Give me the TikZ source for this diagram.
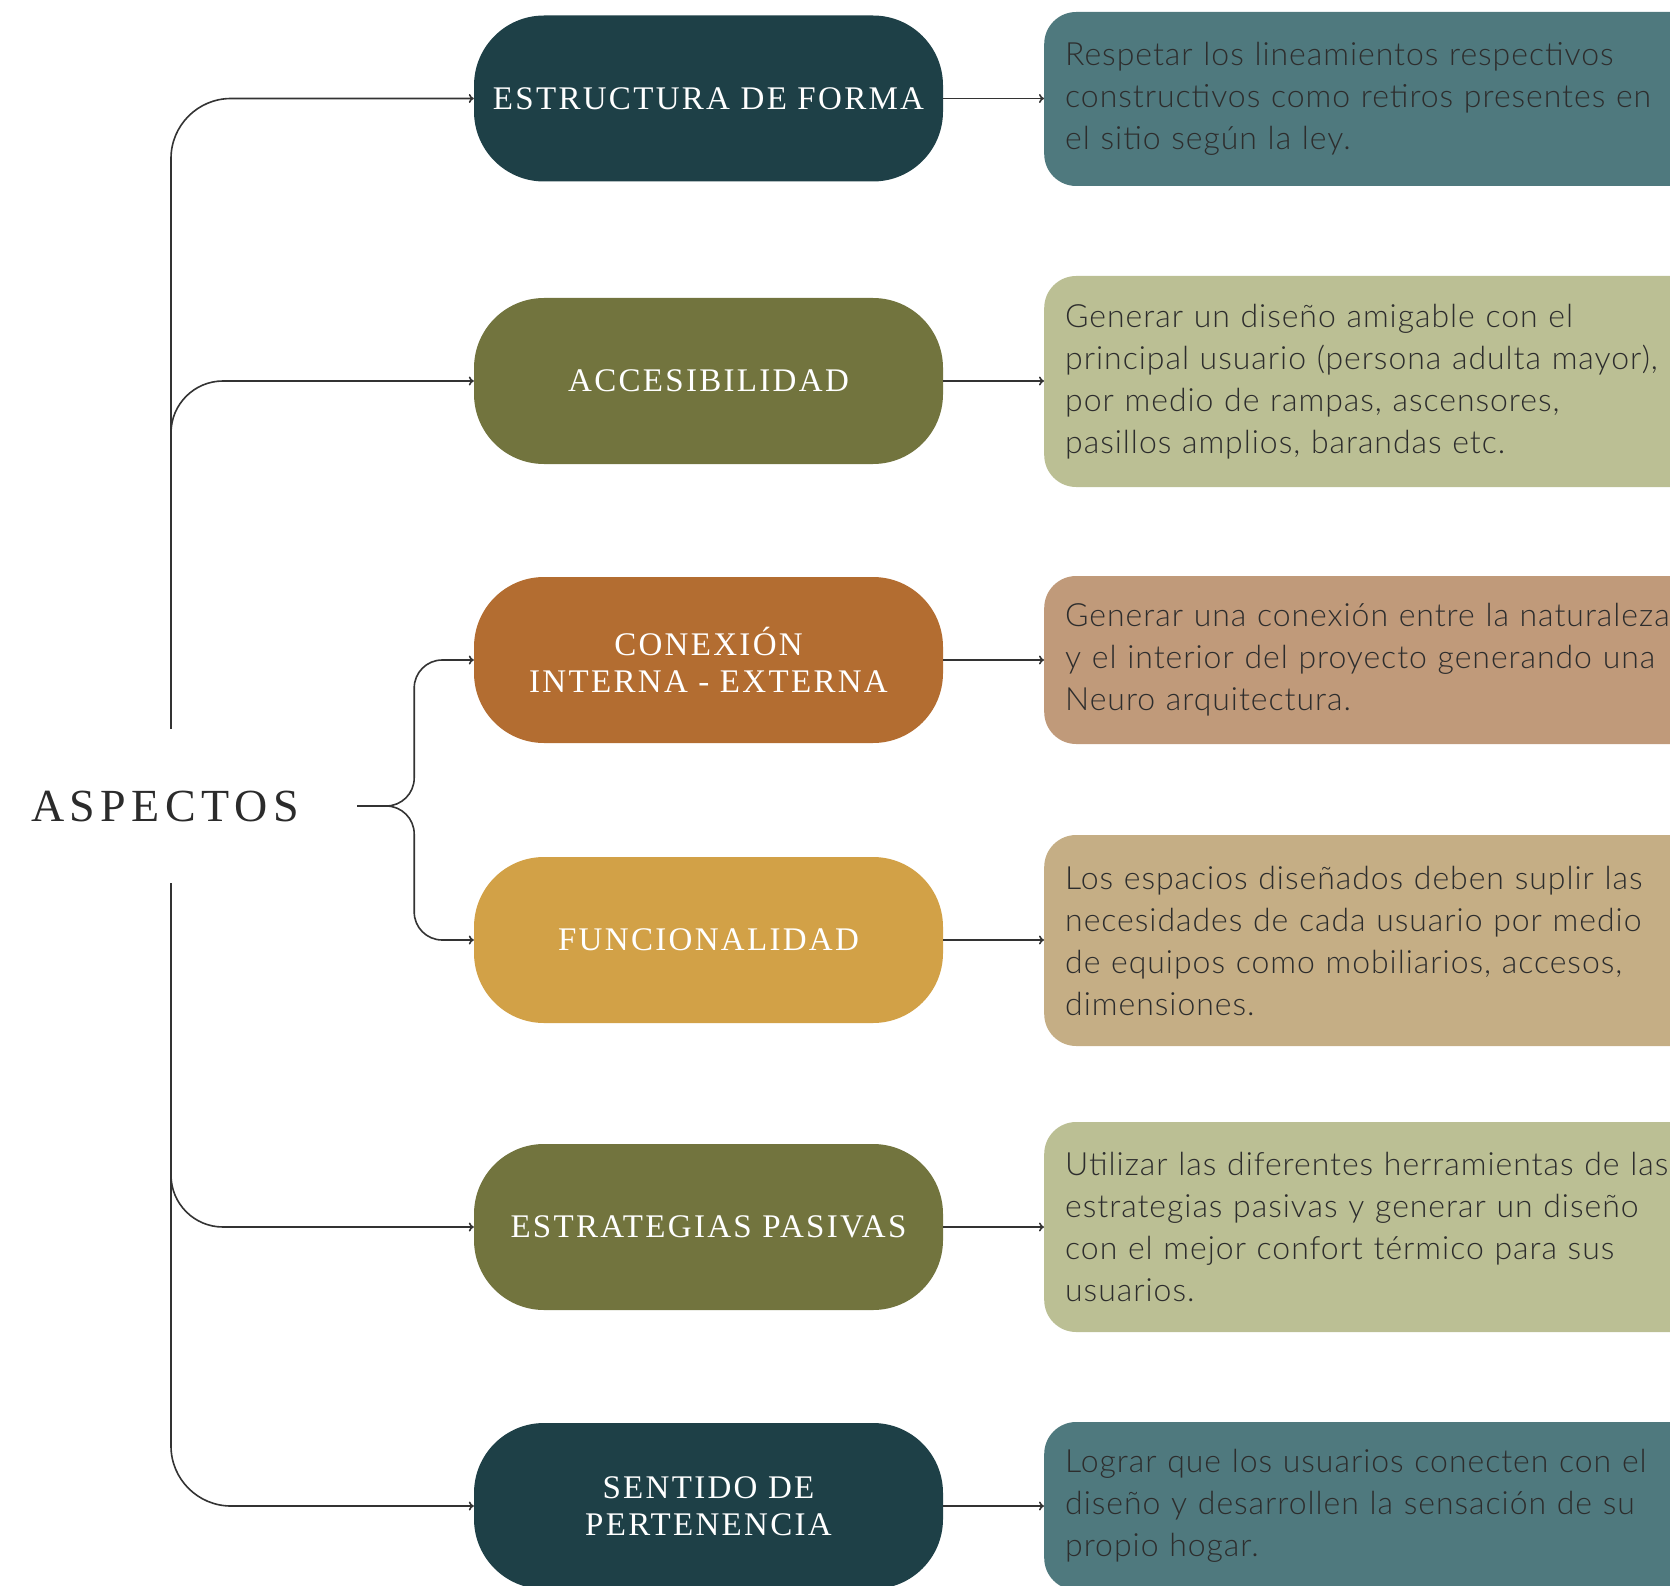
\documentclass[tikz,border=0pt]{standalone}
\usepackage{fontspec}
\setmainfont{Liberation Serif}
\newfontfamily\descfont{Lato Light}[LetterSpace=3]
\newfontfamily\labfont{Liberation Serif}[LetterSpace=7]
\newfontfamily\titfont{Liberation Serif}[LetterSpace=12]
\usetikzlibrary{arrows.meta}
\definecolor{cteal}{RGB}{30,64,71}
\definecolor{colive}{RGB}{114,116,62}
\definecolor{corange}{RGB}{179,109,49}
\definecolor{cmust}{RGB}{210,161,71}
\definecolor{rteal}{RGB}{79,121,126}
\definecolor{rolive}{RGB}{187,191,148}
\definecolor{rorange}{RGB}{192,154,122}
\definecolor{rmust}{RGB}{197,174,133}
\definecolor{linecol}{RGB}{51,51,51}
\definecolor{desctext}{RGB}{45,45,45}
\definecolor{titcol}{RGB}{43,43,43}
\begin{document}
\begin{tikzpicture}[x=1pt,y=-1pt,
  lbox/.style={rounded corners=70pt, minimum width=469pt, minimum height=166pt,
    inner sep=0pt, text=white, align=center,
    font=\labfont\fontsize{33}{37}\selectfont},
  rbox/.style={rounded corners=32pt, anchor=west, text width=640pt,
    inner xsep=21pt, inner ysep=0pt, align=left,
    font=\descfont\fontsize{32}{42}\selectfont, text=desctext},
  conn/.style={draw=linecol, line width=1.6pt, -{To[length=5pt,width=9pt]}}
]
\useasboundingbox (0,0) rectangle (1670,1586);
\clip (0,0) rectangle (1670,1586);

% central label
\node[minimum width=384pt, minimum height=154pt, inner sep=0pt,
      font=\titfont\fontsize{46}{50}\selectfont, text=titcol] (asp) at (165,806) {ASPECTOS};

% left boxes
\node[lbox, fill=cteal]   (b1) at (708.5,98.5)  {ESTRUCTURA DE FORMA};
\node[lbox, fill=colive]  (b2) at (708.5,381)   {ACCESIBILIDAD};
\node[lbox, fill=corange] (b3) at (708.5,660)   {CONEXIÓN\\INTERNA - EXTERNA};
\node[lbox, fill=cmust]   (b4) at (708.5,940)   {FUNCIONALIDAD};
\node[lbox, fill=colive]  (b5) at (708.5,1227)  {ESTRATEGIAS PASIVAS};
\node[lbox, fill=cteal]   (b6) at (708.5,1506)  {SENTIDO DE\\PERTENENCIA};

% right boxes
\node[rbox, fill=rteal,   minimum height=174pt] (r1) at (1044,99)    {Respetar los lineamientos respectivos\\constructivos como retiros presentes en\\el sitio según la ley.};
\node[rbox, fill=rolive,  minimum height=211pt] (r2) at (1044,381.5) {Generar un diseño amigable con el\\principal usuario (persona adulta mayor),\\por medio de rampas, ascensores,\\pasillos amplios, barandas etc.};
\node[rbox, fill=rorange, minimum height=168pt] (r3) at (1044,660)   {Generar una conexión entre la naturaleza\\y el interior del proyecto generando una\\Neuro arquitectura.};
\node[rbox, fill=rmust,   minimum height=211pt] (r4) at (1044,940.5) {Los espacios diseñados deben suplir las\\necesidades de cada usuario por medio\\de equipos como mobiliarios, accesos,\\dimensiones.};
\node[rbox, fill=rolive,  minimum height=210pt] (r5) at (1044,1227)  {Utilizar las diferentes herramientas de las\\estrategias pasivas y generar un diseño\\con el mejor confort térmico para sus\\usuarios.};
\node[rbox, fill=rteal,   minimum height=168pt] (r6) at (1044,1506)  {Lograr que los usuarios conecten con el\\diseño y desarrollen la sensación de su\\propio hogar.};

% trunk connectors
\draw[conn, rounded corners=60pt] ([xshift=6pt]asp.north) |- (b1.west);
\draw[conn, rounded corners=52pt] ([xshift=6pt]asp.north) |- (b2.west);
\draw[conn, rounded corners=28pt] (asp.east) -- ++(57,0) |- (b3.west);
\draw[conn, rounded corners=28pt] (asp.east) -- ++(57,0) |- (b4.west);
\draw[conn, rounded corners=52pt] ([xshift=6pt]asp.south) |- (b5.west);
\draw[conn, rounded corners=60pt] ([xshift=6pt]asp.south) |- (b6.west);

% box to description
\foreach \i in {1,...,6}{
  \draw[conn] (b\i.east) -- (b\i.east -| r\i.west);
}
\end{tikzpicture}
\end{document}
